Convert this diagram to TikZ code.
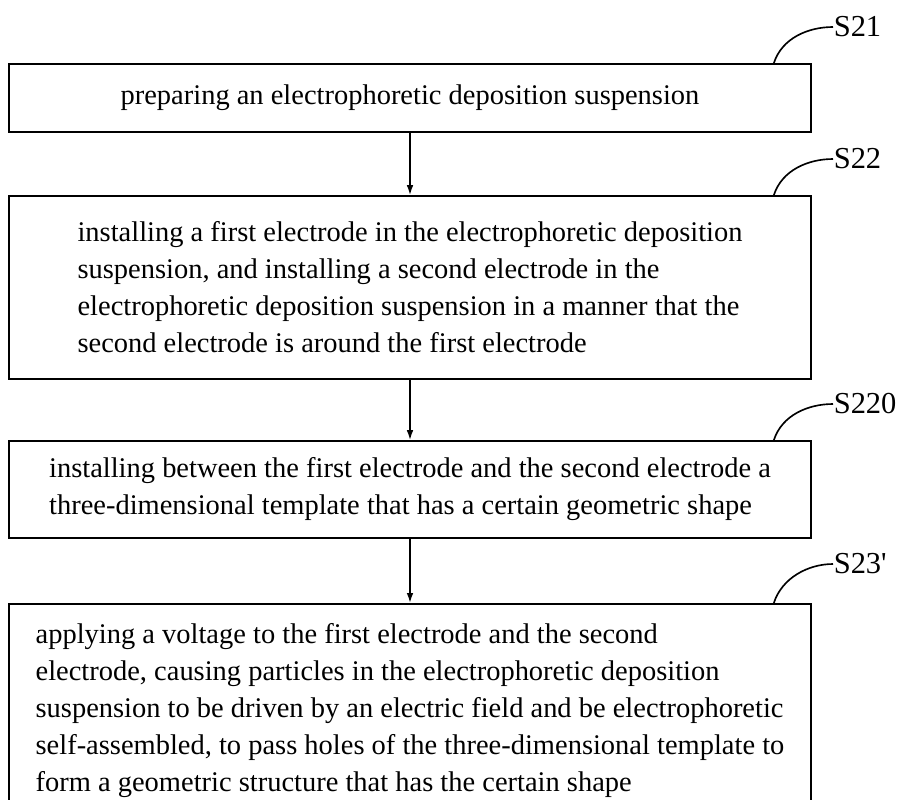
\documentclass[tikz,border=0pt]{standalone}
\usepackage{fontspec}
\setmainfont{Liberation Serif}
\usetikzlibrary{arrows.meta, calc}
\tikzset{
  every picture/.style={line width=1.4pt},
  stepbox/.style={draw, align=left, inner xsep=0pt, minimum width=24.06cm, font=\fontsize{24.3}{31.6}\selectfont},
  steplabel/.style={anchor=west, inner sep=0pt, font=\fontsize{26}{30}\selectfont},
  arrow/.style={-{Latex[length=3mm, width=2mm]}, line width=1.4pt},
  leader/.style={line width=1.4pt},
}

\begin{document}
\begin{tikzpicture}[x=0.03cm, y=-0.03cm]
  \clip (0,0) rectangle (900,799);
  % steps
  \node[stepbox, align=center, minimum height=2.04cm] (s21) at (410,98) {preparing an electrophoretic deposition suspension};
  \node[stepbox, minimum height=5.49cm] (s22) at (410,287.5) {installing a first electrode in the electrophoretic deposition\\
suspension, and installing a second electrode in the\\
electrophoretic deposition suspension in a manner that the\\
second electrode is around the first electrode};
  \node[stepbox, minimum height=2.91cm] (s220) at (410,489.5) {installing between the first electrode and the second electrode a\\
three-dimensional template that has a certain geometric shape};
  \node[stepbox, anchor=north, inner ysep=0.6cm] (s23) at (410,603) {applying a voltage to the first electrode and the second\\
electrode, causing particles in the electrophoretic deposition\\
suspension to be driven by an electric field and be electrophoretic\\
self-assembled, to pass holes of the three-dimensional template to\\
form a geometric structure that has the certain shape};
  \draw[arrow] (s21) -- (s22);
  \draw[arrow] (s22) -- (s220);
  \draw[arrow] (s220) -- (s23);
  % labels
  \node[steplabel] (l21) at (833,27) {S21};
  \node[steplabel] (l22) at (833,159) {S22};
  \node[steplabel] (l220) at (833,404) {S220};
  \node[steplabel] (l23) at (833,564) {S23\textquotesingle};
  \foreach \s in {21,22,220,23}
    \draw[leader] ($(s\s.north east)+(-38,0)$) .. controls +(8,-25) and +(-25,0) .. (l\s.west);
\end{tikzpicture}
\end{document}
